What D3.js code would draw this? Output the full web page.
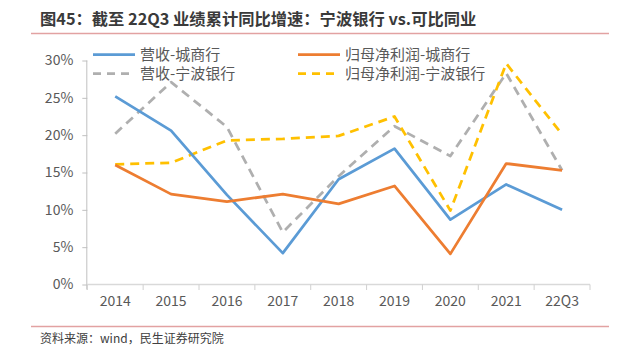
<!DOCTYPE html>
<html><head><meta charset="utf-8">
<script src="https://cdn.jsdelivr.net/npm/d3@7"></script>
<style>body{margin:0;background:#fff}svg{display:block}</style>
</head><body>
<svg id="c" width="621" height="355"></svg>
<script>
const categories = ["2014","2015","2016","2017","2018","2019","2020","2021","22Q3"];
const revCity    = [25.2, 20.6, 12.0, 4.2, 14.1, 18.2, 8.7, 13.4, 10.0];
const npCity     = [16.0, 12.1, 11.1, 12.1, 10.8, 13.2, 4.1, 16.2, 15.3];
const revNingbo  = [20.2, 27.1, 21.1, 7.0, 14.5, 21.2, 17.2, 28.3, 15.3];
const npNingbo   = [16.1, 16.3, 19.3, 19.5, 19.9, 22.5, 9.9, 29.6, 20.1];
const yTicks = [0, 5, 10, 15, 20, 25, 30];
const seriesNames = ["营收-城商行","归母净利润-城商行","营收-宁波银行","归母净利润-宁波银行"];
const titleText = "图45：截至 22Q3 业绩累计同比增速：宁波银行 vs.可比同业";
const sourceText = "资料来源：wind，民生证券研究院";

const svg = d3.select("#c");
const font = "'Noto Sans CJK SC','Microsoft YaHei',sans-serif";
const x = d3.scaleBand().domain(categories).range([87.3, 590]);
const y = d3.scaleLinear().domain([0, 30]).range([284.5, 60.5]);

// title
svg.append("text").attr("x", 40).attr("y", 25).attr("font-family", font)
  .attr("font-weight", "bold").attr("font-size", 16.3).attr("fill", "#3a3a3a").text(titleText);
svg.append("line").attr("x1", 31).attr("x2", 609).attr("y1", 33.5).attr("y2", 33.5)
  .attr("stroke", "#e2a2a2").attr("stroke-width", 1.5);

// axes
const gy = svg.append("g").attr("transform", "translate(87.3,0)")
  .call(d3.axisLeft(y).tickValues(yTicks).tickFormat(d => d + "%").tickSize(5).tickPadding(9));
gy.select(".domain").attr("stroke", "#c0c0c0").attr("d", "M-0.5,60.5V289.5");
gy.selectAll(".tick line").attr("stroke", "#c0c0c0");
gy.selectAll("text").attr("font-family", font).attr("font-size", 14).attr("fill", "#595959");

const gx = svg.append("g").attr("transform", "translate(0,284.5)");
gx.append("line").attr("x1", 87.3).attr("x2", 590).attr("stroke", "#d9d9d9").attr("stroke-width", 1.5);
const bounds = categories.map(c => x(c)).concat([x.range()[1]]);
gx.selectAll(".tk").data(bounds).join("line").attr("class", "tk")
  .attr("x1", d => d).attr("x2", d => d).attr("y1", 0).attr("y2", 5.5)
  .attr("stroke", "#d0d0d0").attr("stroke-width", 1);
gx.selectAll(".lb").data(categories).join("text").attr("class", "lb")
  .attr("x", d => x(d) + x.bandwidth() / 2).attr("y", 21).attr("text-anchor", "middle")
  .attr("font-family", font).attr("font-size", 14).attr("fill", "#595959").text(d => d);

// lines
const cx = (d, i) => x(categories[i]) + x.bandwidth() / 2;
const line = d3.line().x(cx).y(d => y(d));
const series = [
  {name: seriesNames[2], data: revNingbo, color: "#afafaf", dash: "9,6"},
  {name: seriesNames[3], data: npNingbo, color: "#ffc000", dash: "9,6"},
  {name: seriesNames[0], data: revCity, color: "#5b9bd5", dash: null},
  {name: seriesNames[1], data: npCity, color: "#ed7d31", dash: null},
];
series.forEach(s => {
  svg.append("path").datum(s.data).attr("d", line).attr("fill", "none")
    .attr("stroke", s.color).attr("stroke-width", 2.75).attr("stroke-linejoin", "round")
    .attr("stroke-dasharray", s.dash);
});

// legend
const legend = [
  {name: seriesNames[0], color: "#5b9bd5", dash: null, x: 93, y: 54.5},
  {name: seriesNames[1], color: "#ed7d31", dash: null, x: 298, y: 54.5},
  {name: seriesNames[2], color: "#afafaf", dash: "8,6", x: 93, y: 73.5},
  {name: seriesNames[3], color: "#ffc000", dash: "8,6", x: 298, y: 73.5},
];
legend.forEach(l => {
  svg.append("line").attr("x1", l.x).attr("x2", l.x + 42).attr("y1", l.y).attr("y2", l.y)
    .attr("stroke", l.color).attr("stroke-width", 2.75).attr("stroke-dasharray", l.dash);
  svg.append("text").attr("x", l.x + 47).attr("y", l.y).attr("dy", "0.35em")
    .attr("font-family", font).attr("font-size", 15).attr("fill", "#595959").text(l.name);
});

// source
svg.append("line").attr("x1", 31).attr("x2", 609).attr("y1", 326.5).attr("y2", 326.5)
  .attr("stroke", "#e2a2a2").attr("stroke-width", 1.5);
svg.append("text").attr("x", 40).attr("y", 339).attr("dy", "0.35em").attr("font-family", font)
  .attr("font-size", 12).attr("fill", "#404040").text(sourceText);
</script>
</body></html>
